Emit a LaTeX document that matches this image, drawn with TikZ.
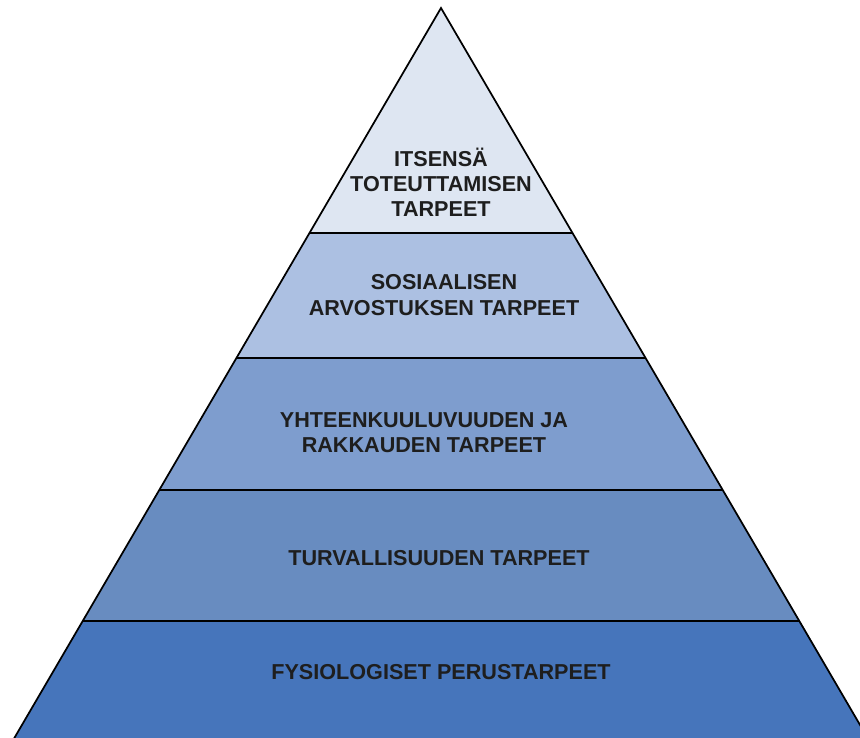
\documentclass[tikz,border=0pt]{standalone}
\usepackage{fontspec}
\setmainfont{Liberation Sans}
\usepackage{tikz}
\usetikzlibrary{calc}

\definecolor{lvlA}{RGB}{222,230,242}
\definecolor{lvlB}{RGB}{172,192,226}
\definecolor{lvlC}{RGB}{126,157,206}
\definecolor{lvlD}{RGB}{104,140,192}
\definecolor{lvlE}{RGB}{70,117,187}
\definecolor{labeltext}{RGB}{30,30,30}

\tikzset{
  needlabel/.style={align=center,text=labeltext,font=\fontsize{16.2}{18.9}\selectfont\bfseries},
  divider/.style={draw=black,line width=0.8pt},
}

\begin{document}
\begin{tikzpicture}[x=0.75pt,y=-0.75pt]
    \useasboundingbox (0,0) rectangle (860,738);
    % corners of the levels
    \coordinate (top) at (441,8);
    \coordinate (l1) at (309.4,233);
    \coordinate (r1) at (572.6,233);
    \coordinate (l2) at (236.3,358);
    \coordinate (r2) at (645.7,358);
    \coordinate (l3) at (159,490);
    \coordinate (r3) at (723,490);
    \coordinate (l4) at (83,621);
    \coordinate (r4) at (800,621);
    \coordinate (l5) at (12,742);
    \coordinate (r5) at (870,742);
    % fills
    \fill[lvlA] (top) -- (l1) -- (r1) -- cycle;
    \fill[lvlB] (l1) -- (l2) -- (r2) -- (r1) -- cycle;
    \fill[lvlC] (l2) -- (l3) -- (r3) -- (r2) -- cycle;
    \fill[lvlD] (l3) -- (l4) -- (r4) -- (r3) -- cycle;
    \fill[lvlE] (l4) -- (l5) -- (r5) -- (r4) -- cycle;
    % lines
    \draw[divider] (l1) -- (r1);
    \draw[divider] (l2) -- (r2);
    \draw[divider] (l3) -- (r3);
    \draw[divider] (l4) -- (r4);
    \draw[line width=1.3pt,line join=miter] (l5) -- (top) -- (r5) -- cycle;
    % labels
    \node[needlabel] (self) at (441,182) {ITSENSÄ\\TOTEUTTAMISEN\\TARPEET};
    \node[needlabel] (esteem) at (444,295) {SOSIAALISEN\\ARVOSTUKSEN TARPEET};
    \node[needlabel] (love) at (424,433) {YHTEENKUULUVUUDEN JA\\RAKKAUDEN TARPEET};
    \node[needlabel] (safety) at (439,558) {TURVALLISUUDEN TARPEET};
    \node[needlabel] (body) at (441,672) {FYSIOLOGISET PERUSTARPEET};
\end{tikzpicture}
\end{document}
